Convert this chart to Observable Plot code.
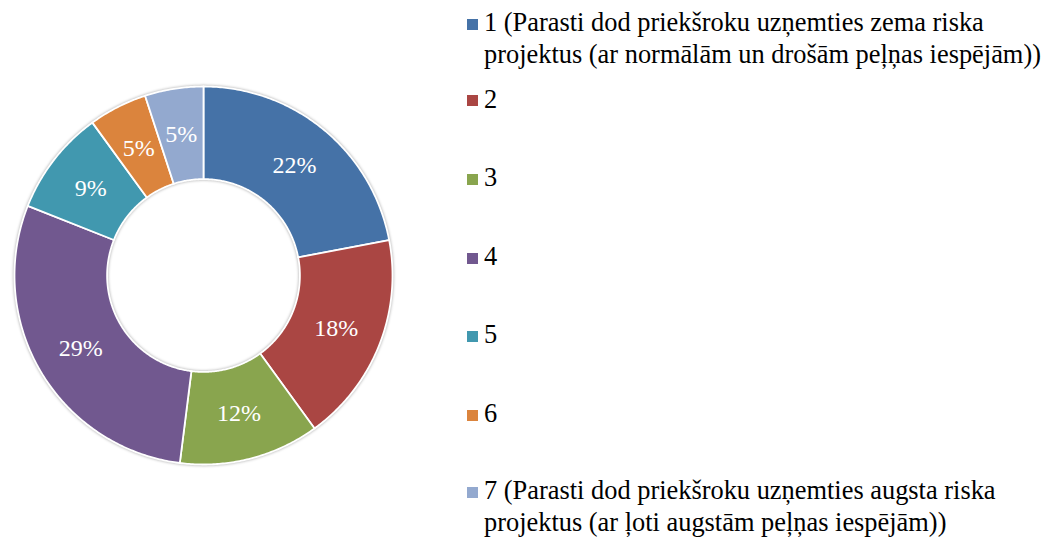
<!DOCTYPE html>
<html>
<head>
<meta charset="utf-8">
<script src="https://cdn.jsdelivr.net/npm/d3@7"></script>
<script src="https://cdn.jsdelivr.net/npm/@observablehq/plot@0.6"></script>
<style>
  html, body { margin: 0; padding: 0; background: #fff; }
  body { width: 1049px; height: 537px; position: relative; overflow: hidden; font-family: "Liberation Serif", "Times New Roman", serif; }
  #chart { position: absolute; left: 0; top: 0; }
  #chart svg g[aria-label="line"] { filter: drop-shadow(0 0 1.5px rgba(0,0,0,0.35)); }
  .legend-item { position: absolute; left: 467px; display: flex; align-items: flex-start; }
  .sw { width: 11px; height: 11px; margin-top: 12.6px; margin-right: 6px; flex: none; }
  .lt { font-size: 26.4px; line-height: 32px; color: #000; white-space: pre; }
</style>
</head>
<body>
<div id="chart"></div>
<div id="legend"></div>
<script>
const categories = ["1", "2", "3", "4", "5", "6", "7"];
const legendLabels = [
  "1 (Parasti dod priekšroku uzņemties zema riska\nprojektus (ar normālām un drošām peļņas iespējām))",
  "2", "3", "4", "5", "6",
  "7 (Parasti dod priekšroku uzņemties augsta riska\nprojektus (ar ļoti augstām peļņas iespējām))"
];
const values = [22, 18, 12, 29, 9, 5, 5];
const colors = ["#4572A7", "#AA4643", "#89A54E", "#71588F", "#4198AF", "#DB843D", "#93A9CF"];

const innerR = 0.51;
const total = d3.sum(values);
let cum = 0;
const slices = values.map((v, i) => {
  const a0 = cum / total * 2 * Math.PI;
  cum += v;
  const a1 = cum / total * 2 * Math.PI;
  return {cat: categories[i], value: v, a0, a1};
});

// polygon points for each slice (outer arc then inner arc back)
const pts = [];
for (const s of slices) {
  const n = Math.max(4, Math.ceil((s.a1 - s.a0) / 0.01));
  const ring = [];
  for (let k = 0; k <= n; k++) {
    const a = s.a0 + (s.a1 - s.a0) * k / n;
    ring.push({cat: s.cat, x: Math.sin(a), y: Math.cos(a)});
  }
  for (let k = n; k >= 0; k--) {
    const a = s.a0 + (s.a1 - s.a0) * k / n;
    ring.push({cat: s.cat, x: innerR * Math.sin(a), y: innerR * Math.cos(a)});
  }
  ring.push({...ring[0]});
  pts.push(...ring);
}
const labelR = (1 + innerR) / 2;
const labelData = slices.map(s => {
  const m = (s.a0 + s.a1) / 2;
  return {x: labelR * Math.sin(m), y: labelR * Math.cos(m), text: Math.round(s.value / total * 100) + "%"};
});

const plot = Plot.plot({
  width: 420,
  height: 537,
  marginLeft: 14,
  marginRight: 28,
  marginTop: 86,
  marginBottom: 73,
  x: {domain: [-1, 1], axis: null},
  y: {domain: [-1, 1], axis: null},
  color: {domain: categories, range: colors},
  marks: [
    Plot.line(pts, {x: "x", y: "y", z: "cat", fill: "cat", stroke: "#ffffff", strokeWidth: 1.8, curve: "linear"}),
    Plot.text(labelData, {x: "x", y: "y", text: "text", fill: "#ffffff", fontSize: 24, fontFamily: "Liberation Serif, Times New Roman, serif"})
  ]
});
document.getElementById("chart").appendChild(plot);

const squareCenters = [23.8, 100.5, 179, 258, 336, 415, 492];
const legend = document.getElementById("legend");
legendLabels.forEach((lab, i) => {
  const item = document.createElement("div");
  item.className = "legend-item";
  item.style.top = (squareCenters[i] - 17.8) + "px";
  const sw = document.createElement("div");
  sw.className = "sw";
  sw.style.background = colors[i];
  const t = document.createElement("div");
  t.className = "lt";
  t.textContent = lab;
  item.appendChild(sw);
  item.appendChild(t);
  legend.appendChild(item);
});
</script>
</body>
</html>
